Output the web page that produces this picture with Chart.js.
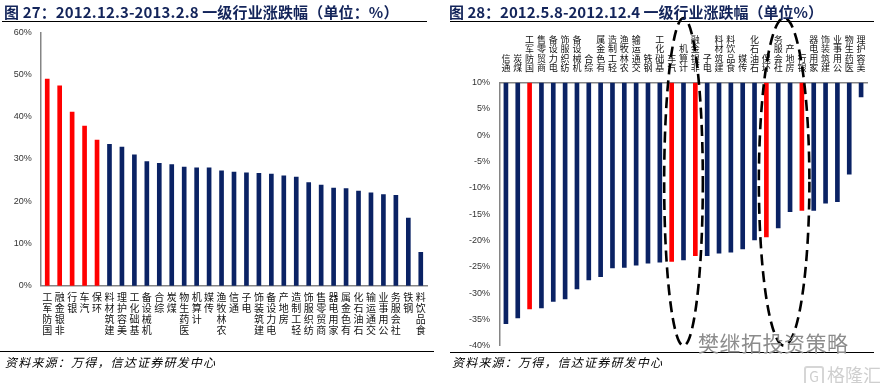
<!DOCTYPE html>
<html>
<head>
<meta charset="utf-8">
<script src="https://cdn.jsdelivr.net/npm/chart.js@4.4.1/dist/chart.umd.min.js"></script>
<style>
  html, body { margin:0; padding:0; background:#fff; }
  #wrap { position:relative; width:880px; height:383px; overflow:hidden; background:#fff; }
  canvas { position:absolute; top:0; }
  .title { position:absolute; top:2px; font-family:"Noto Sans CJK SC", sans-serif; font-weight:bold; font-size:15px; color:#13245a; white-space:nowrap; line-height:20px; z-index:2; }
  .rule { position:absolute; height:0; border-top:1.3px solid #000; z-index:2; }
  .source { position:absolute; top:354px; font-family:"Noto Sans CJK SC", sans-serif; font-style:italic; font-size:12px; letter-spacing:1.2px; color:#000; white-space:nowrap; line-height:16px; z-index:2; }
  .wm { position:absolute; font-family:"Noto Sans CJK SC", sans-serif; white-space:nowrap; z-index:3; }
</style>
</head>
<body>
<div id="wrap">
  <canvas id="c1" width="440" height="383" style="left:0"></canvas>
  <canvas id="c2" width="440" height="383" style="left:440px"></canvas>
  <div class="title" style="left:4px; letter-spacing:0.15px">图 27：2012.12.3-2013.2.8 一级行业涨跌幅（单位：%）</div>
  <div class="rule" style="left:2px; top:21px; width:425px"></div>
  <div class="title" style="left:449px">图 28：2012.5.8-2012.12.4 一级行业涨跌幅（单位%）</div>
  <div class="rule" style="left:450px; top:21px; width:424px"></div>
  <div class="rule" style="left:0px; top:351px; width:434px"></div>
  <div class="rule" style="left:450px; top:352px; width:424px"></div>
  <div class="source" style="left:5px">资料来源：万得，信达证券研发中心</div>
  <div class="source" style="left:452px">资料来源：万得，信达证券研发中心</div>
  <div class="wm" style="left:698px; top:327px; font-size:21px; color:#8c8c8c; letter-spacing:0.5px;">樊继拓投资策略</div>
  <div class="wm" style="left:804px; top:361px; font-size:18px; color:#cfcfcf;"><span style="display:inline-block;border:2px solid #d6d6d6;border-radius:3px;width:16px;height:16px;line-height:16px;text-align:center;font-size:14px;margin-right:3px;">G</span>格隆汇</div>
</div>
<script>
// ---------- Chart 27 data ----------
const categories1 = ['国防军工','非银金融','银行','汽车','环保','建筑材料','美容护理','基础化工','机械设备','综合','煤炭','医药生物','计算机','传媒','农林牧渔','通信','电子','建筑装饰','电力设备','房地产','轻工制造','纺织服饰','商贸零售','家用电器','有色金属','石油石化','交通运输','公用事业','社会服务','钢铁','食品饮料'];
const values1 = [48.9,47.3,41.1,37.8,34.5,33.5,32.8,31.0,29.4,29.0,28.7,28.1,27.9,27.9,27.2,26.9,26.7,26.6,26.4,26.0,25.7,24.4,23.8,23.1,23.0,22.4,22.0,21.6,21.4,16.0,7.9];
const highlight1 = ['国防军工','非银金融','银行','汽车','环保'];
const yTicks1 = [0,10,20,30,40,50,60];

// ---------- Chart 28 data ----------
const categories2 = ['通信','煤炭','国防军工','商贸零售','电力设备','纺织服饰','机械设备','综合','有色金属','轻工制造','农林牧渔','交通运输','钢铁','基础化工','汽车','计算机','非银金融','电子','建筑材料','食品饮料','传媒','石油石化','环保','社会服务','房地产','银行','家用电器','建筑装饰','公用事业','医药生物','美容护理'];
const values2 = [-35.8,-34.7,-33.0,-32.8,-31.6,-31.1,-29.2,-27.5,-26.9,-25.2,-25.1,-24.7,-24.3,-24.1,-24.0,-23.7,-22.9,-22.9,-22.4,-22.2,-21.6,-19.9,-19.3,-17.6,-14.5,-14.3,-14.3,-12.9,-12.6,-7.4,7.3];
const highlight2 = ['国防军工','汽车','非银金融','环保','银行'];
const yTicks2 = [10,5,0,-5,-10,-15,-20,-25,-30,-35,-40];
// circled groups (first and last category of each dashed ellipse)
const circled2 = [['汽车','非银金融'],['环保','银行']];

const RED = '#ff0000', NAVY = '#0a2264';
const AXIS = '#858585';
const CJK = '"Noto Sans CJK SC", sans-serif';
const LAT = '"Liberation Sans", Arial, sans-serif';
const stack = s => s.split('').reverse();

new Chart(document.getElementById('c1'), {
  type: 'bar',
  data: {
    labels: categories1,
    datasets: [{
      data: values1,
      backgroundColor: categories1.map(c => highlight1.includes(c) ? RED : NAVY),
      barThickness: 4,
      borderWidth: 0
    }]
  },
  options: {
    responsive: false, animation: false, devicePixelRatio: 1,
    layout: { padding: { left: 0, right: 13, top: 32.3, bottom: 0 } },
    plugins: { legend: { display: false }, tooltip: { enabled: false } },
    scales: {
      x: {
        grid: { display: false, drawTicks: false },
        border: { color: AXIS, width: 1.5 },
        ticks: { autoSkip: false, minRotation: 0, maxRotation: 0, padding: 6.5, color: '#111',
                 font: { family: CJK, size: 10, lineHeight: 1.1 },
                 callback: (v, i) => stack(categories1[i]) },
        afterFit: s => { s.height = 383 - 285.7; }
      },
      y: {
        min: yTicks1[0], max: yTicks1[yTicks1.length - 1],
        grid: { display: false, drawTicks: false },
        border: { color: AXIS, width: 1.5 },
        afterBuildTicks: s => { s.ticks = yTicks1.map(v => ({ value: v })); },
        ticks: { padding: 9.3, color: '#333', font: { family: LAT, size: 9 }, callback: v => v + '%' },
        afterFit: s => { s.width = 41; }
      }
    }
  }
});

const ellipsePlugin = {
  id: 'ellipses',
  afterDraw(chart) {
    const ctx = chart.ctx, xs = chart.scales.x;
    const top = 18, bottom = chart.chartArea.bottom;
    ctx.save();
    ctx.setLineDash([11, 6]);
    ctx.lineWidth = 2.6;
    ctx.strokeStyle = '#000';
    for (const [a, b] of circled2) {
      const x1 = xs.getPixelForValue(categories2.indexOf(a));
      const x2 = xs.getPixelForValue(categories2.indexOf(b));
      const cx = (x1 + x2) / 2, rx = (x2 - x1) / 2 + 7.5;
      ctx.beginPath();
      ctx.ellipse(cx, (top + bottom) / 2, rx, (bottom - top) / 2, 0, 0, Math.PI * 2);
      ctx.stroke();
    }
    ctx.restore();
  }
};

new Chart(document.getElementById('c2'), {
  type: 'bar',
  data: {
    labels: categories2,
    datasets: [{
      data: values2,
      base: yTicks2[0],
      backgroundColor: categories2.map(c => highlight2.includes(c) ? RED : NAVY),
      barThickness: 4,
      borderWidth: 0
    }]
  },
  options: {
    responsive: false, animation: false, devicePixelRatio: 1,
    layout: { padding: { left: 0, right: 13, top: 0, bottom: 383 - 345.7 } },
    plugins: { legend: { display: false }, tooltip: { enabled: false } },
    scales: {
      x: {
        position: 'top',
        grid: { display: false, drawTicks: false },
        border: { color: AXIS, width: 1.5 },
        ticks: { autoSkip: false, minRotation: 0, maxRotation: 0, padding: 10, color: '#111',
                 font: { family: CJK, size: 9, lineHeight: 1.05 },
                 callback: (v, i) => stack(categories2[i]) },
        afterFit: s => { s.height = 82.7; }
      },
      y: {
        min: yTicks2[yTicks2.length - 1], max: yTicks2[0],
        grid: { display: false, drawTicks: false },
        border: { color: AXIS, width: 1.5 },
        afterBuildTicks: s => { s.ticks = yTicks2.slice().reverse().map(v => ({ value: v })); },
        ticks: { padding: 10, color: '#333', font: { family: LAT, size: 9 }, callback: v => v + '%' },
        afterFit: s => { s.width = 60; }
      }
    }
  },
  plugins: [ellipsePlugin]
});
</script>
</body>
</html>
